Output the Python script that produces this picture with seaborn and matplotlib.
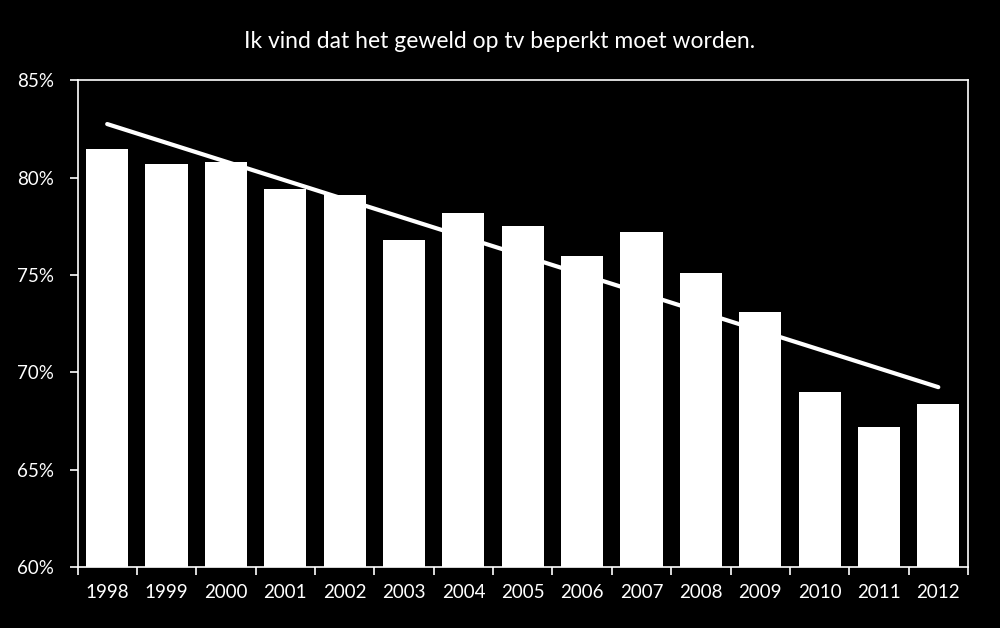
import numpy as np
import pandas as pd
import matplotlib
matplotlib.use("Agg")
import matplotlib.pyplot as plt
import seaborn as sns
from matplotlib.ticker import FuncFormatter, FixedLocator, NullFormatter

years = ["1998", "1999", "2000", "2001", "2002", "2003", "2004", "2005",
         "2006", "2007", "2008", "2009", "2010", "2011", "2012"]
values = [81.5, 80.7, 80.8, 79.4, 79.1, 76.8, 78.2, 77.5,
          76.0, 77.2, 75.1, 73.1, 69.0, 67.2, 68.4]
title = "Ik vind dat het geweld op tv beperkt moet worden."

sns.set_theme(style="white")
plt.rcParams['font.family'] = ['Lato', 'DejaVu Sans']

df = pd.DataFrame({"year": years, "value": values, "idx": np.arange(len(years))})

fig = plt.figure(figsize=(10, 6.28), dpi=100, facecolor="black")
ax = fig.add_axes([0.0775, 0.097, 0.8905, 0.775])
ax.set_facecolor("black")

sns.barplot(data=df, x="year", y="value", color="white", width=0.71,
            saturation=1, ax=ax, linewidth=0)
sns.regplot(data=df, x="idx", y="value", scatter=False, ci=None, truncate=True,
            ax=ax, line_kws=dict(color="white", lw=3, solid_capstyle="round"))

ax.set_ylim(60, 85)
ax.set_xlim(-0.5, len(years) - 0.5)
ax.set_yticks([60, 65, 70, 75, 80, 85])
ax.yaxis.set_major_formatter(FuncFormatter(lambda v, p: f"{v:.0f}%"))
ax.set_xticks(np.arange(len(years)))
ax.set_xticklabels(years)
ax.xaxis.set_minor_locator(FixedLocator(np.arange(-0.5, len(years), 1.0)))
ax.xaxis.set_minor_formatter(NullFormatter())
ax.tick_params(axis="x", which="major", length=0, pad=12, labelsize=13.5, colors="white")
ax.tick_params(axis="x", which="minor", length=6, width=1.2, color="white", direction="out", bottom=True)
ax.tick_params(axis="y", length=6, width=1.2, color="white", direction="out", left=True,
               labelsize=13.5, labelcolor="white", pad=11)
ax.set_xlabel("")
ax.set_ylabel("")
for s in ax.spines.values():
    s.set_visible(True)
    s.set_color("white")
    s.set_linewidth(1.2)

fig.suptitle(title, color="white", fontsize=16.5, y=0.95)
fig.savefig("out.png", facecolor="black")
